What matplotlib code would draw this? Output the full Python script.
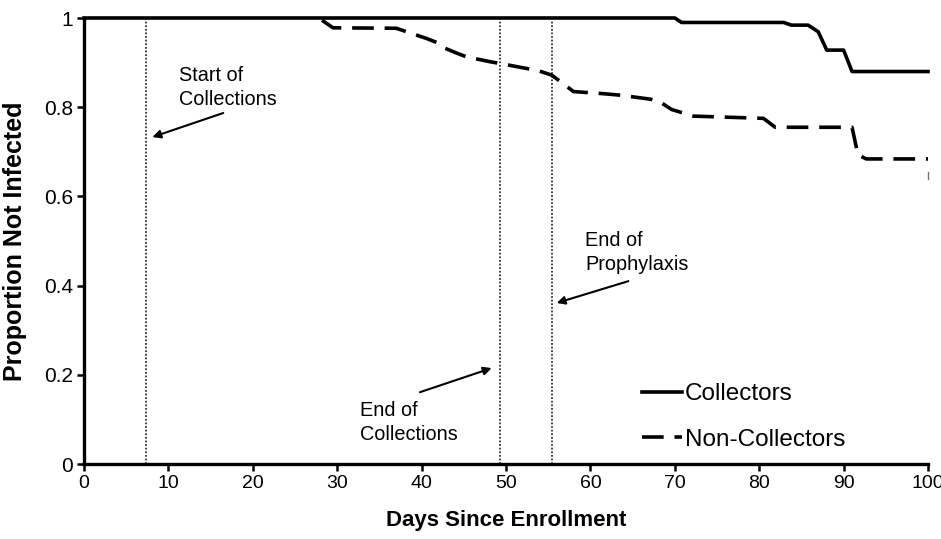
import numpy as np
import matplotlib.pyplot as plt
from matplotlib.ticker import FormatStrFormatter

plt.rcParams['font.family'] = ['Liberation Sans', 'DejaVu Sans']

# Kaplan-Meier style curves
coll_days = [0, 70.0, 70.8, 82.9, 83.8, 85.8, 87.0, 88.0, 90.0, 91.0, 100]
coll_prop = [1.0, 1.0, 0.990, 0.990, 0.984, 0.984, 0.969, 0.928, 0.928, 0.880, 0.880]

non_days = [28.2, 29.5, 37.0, 40.6, 41.8, 42.8, 44.2, 45.3, 48.1, 49.3, 53.8,
            55.4, 56.2, 58.0, 61.1, 63.5, 67.1, 68.4, 69.6, 72.2, 80.5, 81.9,
            91.0, 91.7, 92.7, 100]
non_prop = [0.995, 0.978, 0.977, 0.954, 0.945, 0.932, 0.921, 0.913, 0.902,
            0.898, 0.882, 0.872, 0.861, 0.835, 0.831, 0.827, 0.818, 0.810, 0.795,
            0.780, 0.775, 0.755, 0.755, 0.693, 0.684, 0.684]

end_mark_x = [100, 100]
end_mark_y = [0.640, 0.655]

# event lines (days)
event_days = [7.3, 49.3, 55.5]

fig = plt.figure(figsize=(9.41, 5.39), dpi=100)
ax = fig.add_axes([84/941, 1-464/539, (928-84)/941, (464-18)/539])

for d in event_days:
    ax.plot([d, d], [0, 1], color='#333333', lw=1.3, linestyle=(0, (1, 1)))

ax.plot(non_days, non_prop, color='black', lw=2.6, dashes=(6, 3), clip_on=False,
        label='Non-Collectors', zorder=3)
ax.plot(coll_days, coll_prop, color='black', lw=2.6, clip_on=False, label='Collectors',
        zorder=4)
ax.plot(end_mark_x, end_mark_y, color='#777777', lw=1, clip_on=False)

ax.set_xlim(0, 100)
ax.set_ylim(0, 1)
ax.set_xticks(np.arange(0, 101, 10))
ax.set_yticks([0, 0.2, 0.4, 0.6, 0.8, 1])
ax.yaxis.set_major_formatter(FormatStrFormatter('%g'))
ax.tick_params(axis='both', direction='out', length=5, width=1.8, labelsize=14, pad=3)
ax.tick_params(axis='y', labelsize=15)

for s in ['top', 'right']:
    ax.spines[s].set_visible(False)
for s in ['left', 'bottom']:
    ax.spines[s].set_linewidth(2.4)

ax.set_xlabel('Days Since Enrollment', fontsize=16, fontweight='bold', labelpad=13)
ax.set_ylabel('Proportion Not Infected', fontsize=18, fontweight='bold', labelpad=12)

arrow = dict(arrowstyle='-|>', color='black', lw=1.5, mutation_scale=12, shrinkA=0, shrinkB=0)
ax.annotate('', xy=(8.1, 0.733), xytext=(16.5, 0.787), arrowprops=arrow)
ax.text(11.3, 0.892, 'Start of\nCollections', fontsize=14.3, ha='left', va='top',
        linespacing=1.35)

ax.annotate('', xy=(48.3, 0.215), xytext=(39.8, 0.161), arrowprops=arrow)
ax.text(32.7, 0.142, 'End of\nCollections', fontsize=14.3, ha='left', va='top',
        linespacing=1.35)

ax.annotate('', xy=(56.0, 0.361), xytext=(64.5, 0.410), arrowprops=arrow)
ax.text(59.4, 0.522, 'End of\nProphylaxis', fontsize=14.3, ha='left', va='top',
        linespacing=1.35)

handles, labels = ax.get_legend_handles_labels()
leg = ax.legend(handles[::-1], labels[::-1], loc='center left',
                bbox_to_anchor=(642/941, 1-417/539),
                bbox_transform=fig.transFigure, frameon=False, fontsize=17.5,
                handlelength=1.65, handletextpad=0.1, labelspacing=0.95,
                borderpad=0, borderaxespad=0)

fig.savefig('out.png', dpi=100)
